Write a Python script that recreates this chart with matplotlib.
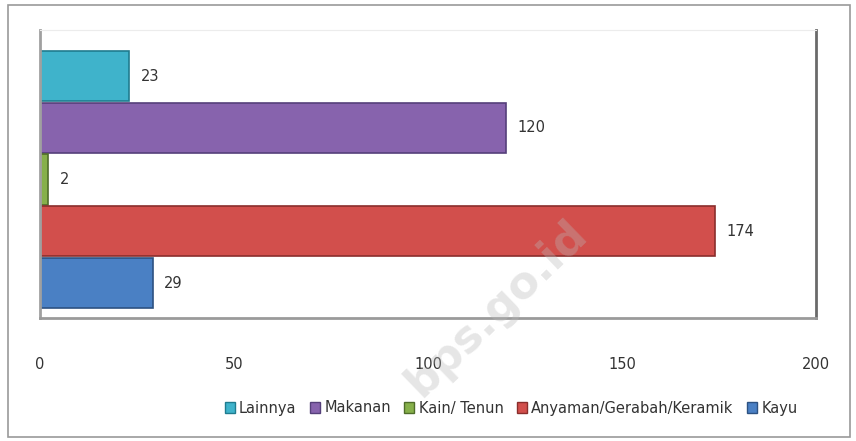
import matplotlib.pyplot as plt
from matplotlib.patches import Rectangle, Patch

categories = ['Lainnya', 'Makanan', 'Kain/ Tenun', 'Anyaman/Gerabah/Keramik', 'Kayu']
values = [23, 120, 2, 174, 29]
colors = ['#3fb3cb', '#8763ad', '#86b04a', '#d24f4c', '#4a80c4']
edges = ['#1f7c8f', '#55407a', '#4f6d2a', '#8a2e2c', '#2d5282']

fig = plt.figure(figsize=(8.56, 4.41), dpi=100)
fig.patches.append(Rectangle((8 / 856, 4 / 441), 842 / 856, 432 / 441,
                             transform=fig.transFigure, fill=False,
                             edgecolor='#9a9a9a', linewidth=1.2))

ax = fig.add_axes([40 / 856, 1 - 318 / 441, 776 / 856, 288 / 441])
ypos = list(range(len(categories)))[::-1]
bars = ax.barh(ypos, values, height=0.97, color=colors, edgecolor=edges, linewidth=1.2)
for b, v in zip(bars, values):
    ax.text(b.get_width() + 3, b.get_y() + b.get_height() / 2, str(v),
            va='center', ha='left', fontsize=10.5, color='#333333')

ax.set_xlim(0, 200)
ax.set_ylim(-0.676, 4.89)
ax.set_xticks([0, 50, 100, 150, 200])
ax.set_yticks([])
ax.tick_params(axis='x', length=0, pad=28, labelsize=10.5, labelcolor='#333333')
ax.spines['top'].set_color('#ececec')
ax.spines['right'].set_color('#6a6a6a')
ax.spines['right'].set_linewidth(2)
ax.spines['left'].set_color('#a0a0a0')
ax.spines['left'].set_linewidth(2)
ax.spines['bottom'].set_color('#9a9a9a')
ax.spines['bottom'].set_linewidth(2)

fig.text(0.58, 0.30, 'bps.go.id', fontsize=32, color='#b8b8b8', alpha=0.35,
         rotation=44, ha='center', va='center', fontweight='bold', zorder=10)

handles = [Patch(facecolor=c, edgecolor=e) for c, e in zip(colors, edges)]
fig.legend(handles, categories, loc='center', bbox_to_anchor=(0.597, 1 - 408 / 441),
           ncol=5, frameon=False, fontsize=10.5, handlelength=0.7, handleheight=0.7,
           handletextpad=0.3, columnspacing=0.9, labelcolor='#333333')

fig.savefig('out.png', dpi=100)
